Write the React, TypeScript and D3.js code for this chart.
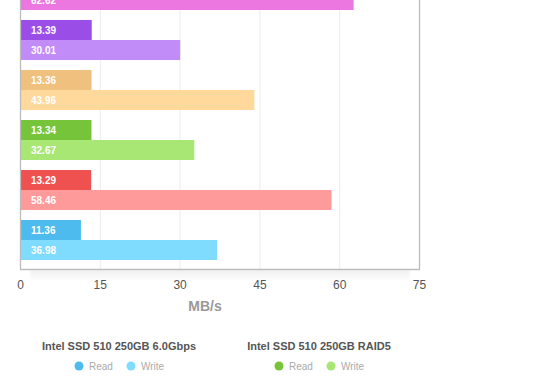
import React from 'react';
import * as d3 from 'd3';

// groups from top to bottom (the top one is partly cut off in the picture)
const groups = ['g6', 'g5', 'g4', 'g3', 'g2', 'g1'];
const readValues = [13.41, 13.39, 13.36, 13.34, 13.29, 11.36];
const writeValues = [62.62, 30.01, 43.96, 32.67, 58.46, 36.98];
const readColors = ['#d45fc9', '#9b4de8', '#efc07e', '#76c43a', '#ef5151', '#4dbbee'];
const writeColors = ['#ec77e1', '#c28cf8', '#fed99b', '#a8e774', '#ff9a9a', '#80dcff'];
const xTicks = [0, 15, 30, 45, 60, 75];
const legendTitles = ['Intel SSD 510 250GB 6.0Gbps', 'Intel SSD 510 250GB RAID5'];
const legendColors = [['#4dbbee', '#80dcff'], ['#76c43a', '#a8e774']];
const legendItems = ['Read', 'Write'];

const font = '"Liberation Sans", Arial, Helvetica, sans-serif';

export default function App() {
  const width = 560;
  const height = 390;
  const left = 20.5;
  const right = 419.5;
  const bottom = 269.5;

  const x = d3.scaleLinear().domain([0, 75]).range([left, right]);
  const y = d3.scaleBand().domain(groups).range([-35, 265]).paddingInner(0.2).paddingOuter(0.1);
  const bh = y.bandwidth() / 2;

  const legendX = [119, 319];

  return (
    <svg width={width} height={height} style={{ position: 'absolute', left: 0, top: 0, background: '#fff' }}>
      <defs>
        <linearGradient id="shadow" x1="0" y1="0" x2="0" y2="1">
          <stop offset="0" stopColor="#000" stopOpacity={0.06} />
          <stop offset="1" stopColor="#000" stopOpacity={0} />
        </linearGradient>
      </defs>
      <rect x={left + 10} y={bottom + 1} width={right - left - 20} height={11} fill="url(#shadow)" />
      {xTicks.slice(1, -1).map(t => (
        <line key={t} x1={x(t)} x2={x(t)} y1={-50} y2={bottom} stroke="#ececec" strokeWidth={1} />
      ))}
      {groups.map((g, i) => {
        const y0 = y(g) as number;
        return (
          <g key={g}>
            <rect x={x(0)} y={y0} width={x(readValues[i]) - x(0)} height={bh} fill={readColors[i]} />
            <rect x={x(0)} y={y0 + bh} width={x(writeValues[i]) - x(0)} height={bh} fill={writeColors[i]} />
            <text x={31} y={y0 + bh / 2 + 3.5} fill="#fff" fontSize={10} fontWeight="bold" fontFamily={font}>
              {readValues[i].toFixed(2)}
            </text>
            <text x={31} y={y0 + bh * 1.5 + 3.5} fill="#fff" fontSize={10} fontWeight="bold" fontFamily={font}>
              {writeValues[i].toFixed(2)}
            </text>
          </g>
        );
      })}
      <path d={`M${left},-50V${bottom}H${right}V-50`} fill="none" stroke="#bbb" strokeWidth={1.3} />
      {xTicks.map(t => (
        <text key={t} x={x(t)} y={289} textAnchor="middle" fill="#555" fontSize={12} fontFamily={font}>
          {t}
        </text>
      ))}
      <text x={205} y={311} textAnchor="middle" fill="#999" fontSize={14} fontWeight="bold" fontFamily={font}>
        MB/s
      </text>
      {legendTitles.map((title, i) => (
        <g key={title}>
          <text x={legendX[i]} y={350} textAnchor="middle" fill="#555" fontSize={11} fontWeight="bold" fontFamily={font}>
            {title}
          </text>
          {legendItems.map((item, j) => {
            const cx = legendX[i] - 40 + j * 52;
            return (
              <g key={item}>
                <circle cx={cx} cy={366} r={4.5} fill={legendColors[i][j]} />
                <text x={cx + 10} y={369.5} fill="#aaa" fontSize={10} fontFamily={font}>
                  {item}
                </text>
              </g>
            );
          })}
        </g>
      ))}
    </svg>
  );
}
